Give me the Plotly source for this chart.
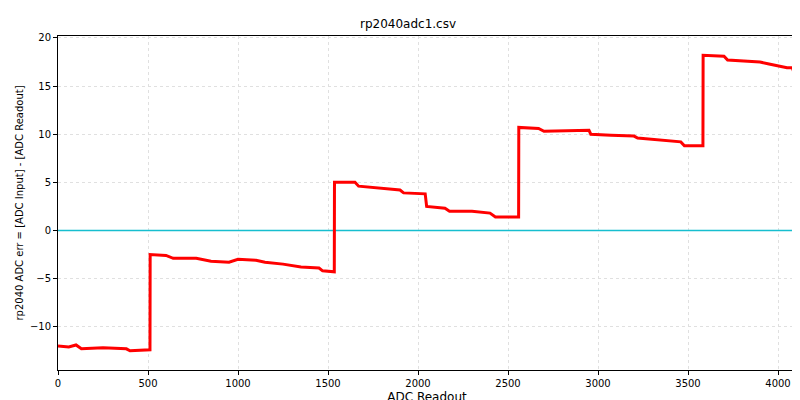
import plotly.graph_objects as go

# ADC readout vs error (plateau levels)
adc = [0, 60, 100, 130, 250, 380, 400, 511,
       512, 600, 640, 768, 850, 950, 1000, 1100, 1150, 1250, 1350, 1450, 1470, 1535,
       1536, 1650, 1670, 1790, 1900, 1920, 2040, 2048, 2150, 2175, 2300, 2400, 2430, 2559,
       2560, 2670, 2700, 2950, 2960, 3072, 3200, 3220, 3330, 3460, 3480, 3583,
       3584, 3700, 3720, 3900, 3950, 4050, 4080, 4095]
err = [-12.0, -12.1, -11.9, -12.3, -12.2, -12.3, -12.5, -12.4,
       -2.5, -2.6, -2.9, -2.9, -3.2, -3.3, -3.0, -3.1, -3.3, -3.5, -3.8, -3.9, -4.2, -4.3,
       5.0, 5.0, 4.6, 4.4, 4.2, 3.9, 3.8, 2.5, 2.3, 2.0, 2.0, 1.8, 1.4, 1.4,
       10.7, 10.6, 10.3, 10.4, 10.0, 9.9, 9.8, 9.6, 9.4, 9.2, 8.8, 8.8,
       18.2, 18.1, 17.7, 17.5, 17.3, 16.9, 16.9, 16.0]

fig = go.Figure()
fig.add_trace(go.Scatter(x=[0, 4100], y=[0, 0], mode="lines",
                         line=dict(color="#17becf", width=1.5), hoverinfo="skip"))
fig.add_trace(go.Scatter(x=adc, y=err, mode="lines",
                         line=dict(color="red", width=3)))

ax = dict(showline=True, mirror=True, linecolor="black", linewidth=1,
          ticks="outside", ticklen=4, tickcolor="black", automargin=False,
          showgrid=True, gridcolor="#e0e0e0", griddash="dot", gridwidth=1, zeroline=False)

fig.update_layout(
    width=800, height=400,
    title=dict(text="rp2040adc1.csv", x=0.5, y=0.97, font=dict(size=12)),
    font=dict(family="DejaVu Sans", size=10, color="black"),
    plot_bgcolor="white", paper_bgcolor="white",
    showlegend=False,
    margin=dict(l=50, r=12, t=28, b=38),
    xaxis=dict(ax, title=dict(text="ADC Readout", standoff=4), range=[0, 4100],
               tickvals=[0, 500, 1000, 1500, 2000, 2500, 3000, 3500, 4000]),
    yaxis=dict(ax, title=dict(text="rp2040 ADC err = [ADC Input] - [ADC Readout]", standoff=4,
                              font=dict(size=10)),
               range=[-14.5, 20.2], tickvals=[-10, -5, 0, 5, 10, 15, 20]),
)

fig.write_html("out.html")
